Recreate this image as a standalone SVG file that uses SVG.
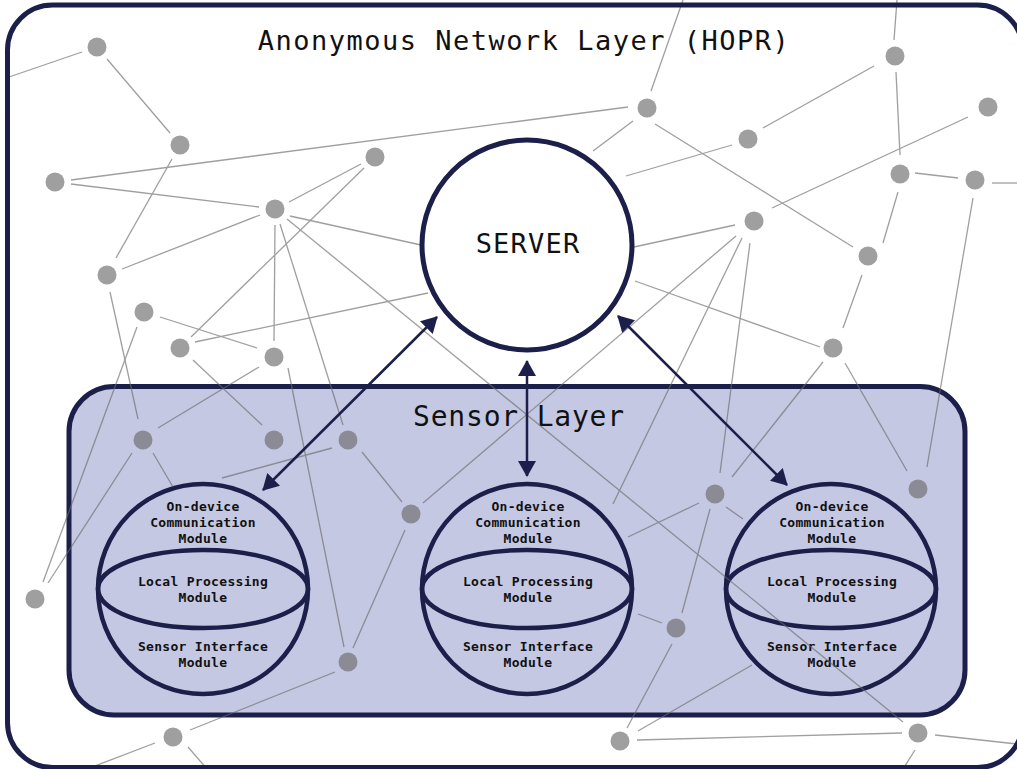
<svg xmlns="http://www.w3.org/2000/svg" width="1017" height="769" viewBox="0 0 1017 769">
<style>
.frame{fill:none;stroke:#1b1f4a;stroke-width:5}
.layer{fill:#c5c8e3;stroke:#1b1f4a;stroke-width:5}
.sensor{fill:none;stroke:#1b1f4a;stroke-width:4.5}
.server{fill:#ffffff;stroke:#1b1f4a;stroke-width:5}
.title{font-family:"DejaVu Sans Mono","Liberation Mono",monospace;fill:#111111}
.mod{font-family:"DejaVu Sans Mono","Liberation Mono",monospace;font-size:13px;font-weight:bold;fill:#111111;text-anchor:middle;letter-spacing:0.3px}
.net line{stroke:#6a6a6a;stroke-width:1.3}
.net circle{fill:#6a6a6a}
.arrow{stroke:#1b1f4a;stroke-width:2.5;fill:none;marker-start:url(#ah);marker-end:url(#ah)}
</style>
<defs>
<marker id="ah" viewBox="0 0 16 18" refX="15" refY="9" markerWidth="16" markerHeight="18" markerUnits="userSpaceOnUse" orient="auto-start-reverse">
<path d="M0,0 L16,9 L0,18 z" fill="#1b1f4a"/>
</marker>
</defs>
<rect x="0" y="0" width="1017" height="769" fill="#ffffff"/>
<text class="title" x="524" y="50" font-size="27" letter-spacing="1.5" text-anchor="middle">Anonymous Network Layer (HOPR)</text>

<g id="sensor-layer">
<rect class="layer" x="69" y="386.5" width="896" height="328.5" rx="45"/>
<text class="title" x="519" y="426" font-size="28" letter-spacing="0.8" text-anchor="middle">Sensor Layer</text>
</g>

<g id="sensor-1">
<circle class="sensor" cx="203" cy="589" r="105"/>
<ellipse class="sensor" cx="203" cy="589" rx="105" ry="39"/>
<text class="mod" x="203" y="511">On-device</text>
<text class="mod" x="203" y="527">Communication</text>
<text class="mod" x="203" y="543">Module</text>
<text class="mod" x="203" y="586">Local Processing</text>
<text class="mod" x="203" y="602">Module</text>
<text class="mod" x="203" y="651">Sensor Interface</text>
<text class="mod" x="203" y="667">Module</text>
</g>
<g id="sensor-2">
<circle class="sensor" cx="527" cy="589" r="105"/>
<ellipse class="sensor" cx="527" cy="589" rx="105" ry="39"/>
<text class="mod" x="528" y="511">On-device</text>
<text class="mod" x="528" y="527">Communication</text>
<text class="mod" x="528" y="543">Module</text>
<text class="mod" x="528" y="586">Local Processing</text>
<text class="mod" x="528" y="602">Module</text>
<text class="mod" x="528" y="651">Sensor Interface</text>
<text class="mod" x="528" y="667">Module</text>
</g>
<g id="sensor-3">
<circle class="sensor" cx="831" cy="589" r="105"/>
<ellipse class="sensor" cx="831" cy="589" rx="105" ry="39"/>
<text class="mod" x="832" y="511">On-device</text>
<text class="mod" x="832" y="527">Communication</text>
<text class="mod" x="832" y="543">Module</text>
<text class="mod" x="832" y="586">Local Processing</text>
<text class="mod" x="832" y="602">Module</text>
<text class="mod" x="832" y="651">Sensor Interface</text>
<text class="mod" x="832" y="667">Module</text>
</g>

<g id="network" class="net" opacity="0.64">
<g id="net-links">
<line x1="82" y1="52" x2="9" y2="77"/>
<line x1="107" y1="59" x2="170" y2="133"/>
<line x1="172" y1="159" x2="116" y2="258"/>
<line x1="71" y1="180" x2="628" y2="107"/>
<line x1="71" y1="184" x2="259" y2="207"/>
<line x1="289" y1="202" x2="361" y2="164"/>
<line x1="364" y1="168" x2="191" y2="337"/>
<line x1="260" y1="215" x2="122" y2="269"/>
<line x1="275" y1="225" x2="274" y2="341"/>
<line x1="280" y1="224" x2="343" y2="425"/>
<line x1="287" y1="219" x2="903" y2="722"/>
<line x1="290" y1="216" x2="421" y2="245"/>
<line x1="651" y1="91" x2="683" y2="0"/>
<line x1="633" y1="121" x2="593" y2="151"/>
<line x1="655" y1="124" x2="853" y2="247"/>
<line x1="732" y1="145" x2="626" y2="176"/>
<line x1="763" y1="128" x2="874" y2="66"/>
<line x1="894" y1="40" x2="897" y2="0"/>
<line x1="896" y1="72" x2="900" y2="155"/>
<line x1="968" y1="117" x2="772" y2="208"/>
<line x1="915" y1="173" x2="958" y2="178"/>
<line x1="992" y1="183" x2="1017" y2="183"/>
<line x1="898" y1="192" x2="883" y2="243"/>
<line x1="973" y1="198" x2="927" y2="467"/>
<line x1="735" y1="225" x2="634" y2="247"/>
<line x1="736" y1="236" x2="423" y2="503"/>
<line x1="742" y1="238" x2="613" y2="504"/>
<line x1="750" y1="243" x2="720" y2="473"/>
<line x1="862" y1="275" x2="843" y2="328"/>
<line x1="635" y1="281" x2="820" y2="347"/>
<line x1="823" y1="362" x2="732" y2="477"/>
<line x1="845" y1="363" x2="907" y2="471"/>
<line x1="699" y1="503" x2="628" y2="537"/>
<line x1="710" y1="509" x2="682" y2="613"/>
<line x1="726" y1="507" x2="743" y2="519"/>
<line x1="662" y1="623" x2="638" y2="614"/>
<line x1="672" y1="644" x2="627" y2="728"/>
<line x1="637" y1="740" x2="902" y2="733"/>
<line x1="638" y1="731" x2="752" y2="665"/>
<line x1="935" y1="735" x2="1017" y2="744"/>
<line x1="915" y1="750" x2="903" y2="769"/>
<line x1="190" y1="730" x2="335" y2="672"/>
<line x1="155" y1="743" x2="87" y2="769"/>
<line x1="188" y1="747" x2="207" y2="769"/>
<line x1="405" y1="530" x2="353" y2="648"/>
<line x1="288" y1="368" x2="344" y2="647"/>
<line x1="362" y1="452" x2="402" y2="502"/>
<line x1="332" y1="448" x2="222" y2="478"/>
<line x1="153" y1="453" x2="173" y2="487"/>
<line x1="132" y1="453" x2="48" y2="583"/>
<line x1="137" y1="327" x2="43" y2="582"/>
<line x1="110" y1="292" x2="138" y2="419"/>
<line x1="160" y1="317" x2="257" y2="348"/>
<line x1="195" y1="342" x2="428" y2="293"/>
<line x1="193" y1="360" x2="262" y2="425"/>
<line x1="259" y1="367" x2="158" y2="428"/>
</g>
<g id="n1"><circle cx="97" cy="47" r="9.5"/></g>
<g id="n2"><circle cx="180" cy="145" r="9.5"/></g>
<g id="n3"><circle cx="55" cy="182" r="9.5"/></g>
<g id="n4"><circle cx="275" cy="209" r="9.5"/></g>
<g id="n5"><circle cx="375" cy="157" r="9.5"/></g>
<g id="n6"><circle cx="107" cy="275" r="9.5"/></g>
<g id="n7"><circle cx="144" cy="312" r="9.5"/></g>
<g id="n8"><circle cx="180" cy="348" r="9.5"/></g>
<g id="n9"><circle cx="274" cy="357" r="9.5"/></g>
<g id="n10"><circle cx="143" cy="440" r="9.5"/></g>
<g id="n11"><circle cx="274" cy="440" r="9.5"/></g>
<g id="n12"><circle cx="348" cy="440" r="9.5"/></g>
<g id="n13"><circle cx="411" cy="514" r="9.5"/></g>
<g id="n14"><circle cx="35" cy="599" r="9.5"/></g>
<g id="n15"><circle cx="348" cy="662" r="9.5"/></g>
<g id="n16"><circle cx="173" cy="737" r="9.5"/></g>
<g id="n17"><circle cx="647" cy="108" r="9.5"/></g>
<g id="n18"><circle cx="748" cy="139" r="9.5"/></g>
<g id="n19"><circle cx="895" cy="56" r="9.5"/></g>
<g id="n20"><circle cx="988" cy="107" r="9.5"/></g>
<g id="n21"><circle cx="900" cy="174" r="9.5"/></g>
<g id="n22"><circle cx="975" cy="180" r="9.5"/></g>
<g id="n23"><circle cx="754" cy="221" r="9.5"/></g>
<g id="n24"><circle cx="868" cy="256" r="9.5"/></g>
<g id="n25"><circle cx="833" cy="348" r="9.5"/></g>
<g id="n26"><circle cx="715" cy="494" r="9.5"/></g>
<g id="n27"><circle cx="918" cy="489" r="9.5"/></g>
<g id="n28"><circle cx="676" cy="628" r="9.5"/></g>
<g id="n29"><circle cx="620" cy="741" r="9.5"/></g>
<g id="n30"><circle cx="918" cy="733" r="9.5"/></g>
</g>

<g id="server">
<circle class="server" cx="527" cy="245" r="105"/>
<text class="title" x="528" y="253" font-size="27" letter-spacing="1.2" text-anchor="middle">SERVER</text>
</g>

<g id="connectors">
<line class="arrow" x1="263" y1="490" x2="437" y2="317"/>
<line class="arrow" x1="527" y1="476" x2="527" y2="361"/>
<line class="arrow" x1="787" y1="485" x2="618" y2="316"/>
</g>

<rect class="frame" x="7.5" y="5" width="1015" height="762.5" rx="45"/>
</svg>
